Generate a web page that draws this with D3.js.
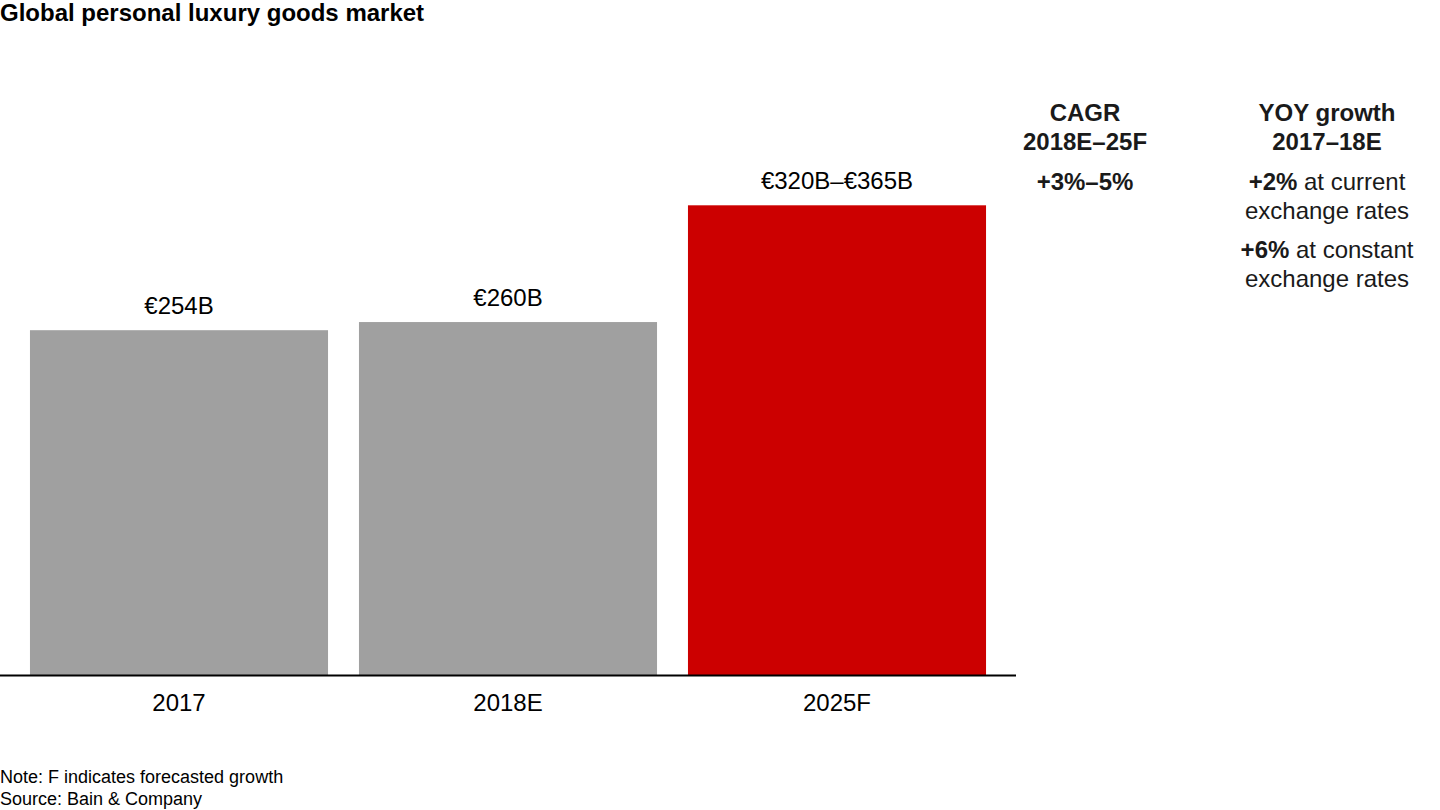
<!DOCTYPE html>
<html><head><meta charset="utf-8">
<script src="https://cdn.jsdelivr.net/npm/d3@7"></script>
<style>body{margin:0;background:#fff}svg{display:block;font-family:"Liberation Sans",Arial,sans-serif}</style>
</head><body><svg id="c" width="1440" height="810"></svg>
<script>
const categories = ["2017", "2018E", "2025F"];
const values = [254, 260, 346];
const valueLabels = ["€254B", "€260B", "€320B–€365B"];
const barColors = ["#a0a0a0", "#a0a0a0", "#cc0000"];
const yDomain = [0, 400];

const svg = d3.select("#c");
const x = d3.scaleBand().domain(categories).range([14.5, 1001.5]).paddingInner(0.094).paddingOuter(0.047);
const y = d3.scaleLinear().domain(yDomain).range([675, 132]);

svg.append("text").attr("x", 0).attr("y", 21).attr("font-size", 24).attr("font-weight", "bold").attr("fill", "#000").text("Global personal luxury goods market");

svg.selectAll("rect.bar").data(categories).join("rect").attr("class","bar")
  .attr("x", d => x(d)).attr("width", x.bandwidth())
  .attr("y", (d,i) => y(values[i])).attr("height", (d,i) => y(0) - y(values[i]))
  .attr("fill", (d,i) => barColors[i]);

svg.selectAll("text.val").data(categories).join("text").attr("class","val")
  .attr("x", d => x(d) + x.bandwidth()/2).attr("y", (d,i) => y(values[i]) - 16)
  .attr("text-anchor","middle").attr("font-size", 24).attr("fill","#000").text((d,i) => valueLabels[i]);

const axis = d3.axisBottom(x).tickSize(0).tickPadding(19);
const g = svg.append("g").attr("transform", "translate(0,675)").call(axis);
g.select(".domain").remove();
g.selectAll("text").attr("font-size", 24).attr("fill","#000").attr("font-family","Liberation Sans, Arial, sans-serif");
svg.append("line").attr("x1",0).attr("x2",1016).attr("y1",675.5).attr("y2",675.5).attr("stroke","#000").attr("stroke-width",2);

function block(cx, lines) {
  lines.forEach(l => {
    const t = svg.append("text").attr("x", cx).attr("y", l.y).attr("text-anchor","middle").attr("font-size", 24).attr("fill","#1a1a1a");
    l.parts.forEach(p => t.append("tspan").attr("font-weight", p.b ? "bold" : "normal").text(p.t));
  });
}
block(1085, [
  {y:121, parts:[{t:"CAGR", b:1}]},
  {y:150, parts:[{t:"2018E–25F", b:1}]},
  {y:190, parts:[{t:"+3%–5%", b:1}]}
]);
block(1327, [
  {y:121, parts:[{t:"YOY growth", b:1}]},
  {y:150, parts:[{t:"2017–18E", b:1}]},
  {y:190, parts:[{t:"+2%", b:1},{t:" at current"}]},
  {y:219, parts:[{t:"exchange rates"}]},
  {y:258, parts:[{t:"+6%", b:1},{t:" at constant"}]},
  {y:287, parts:[{t:"exchange rates"}]}
]);

svg.append("text").attr("x",0).attr("y",783).attr("font-size",18).attr("fill","#000").text("Note: F indicates forecasted growth");
svg.append("text").attr("x",0).attr("y",805).attr("font-size",18).attr("fill","#000").text("Source: Bain & Company");
</script></body></html>
